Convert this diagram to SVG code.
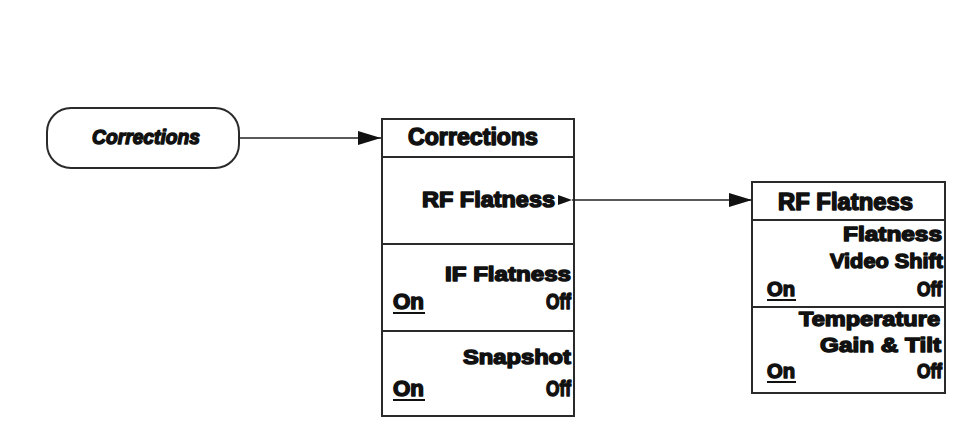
<svg xmlns="http://www.w3.org/2000/svg" width="963" height="423" viewBox="0 0 963 423">
<defs>
<style>
.box{fill:#fff;stroke:#2a2a2a;stroke-width:2}
.div{stroke:#2a2a2a;stroke-width:2}
.t{font-family:"Liberation Sans",Arial,sans-serif;font-weight:bold;fill:#111;stroke:#111;stroke-width:1.5;stroke-linejoin:round}
.conn{stroke:#222;stroke-width:1.6;fill:none}
.ul{stroke:#111;stroke-width:2}
</style>
<marker id="ah" markerUnits="userSpaceOnUse" markerWidth="24" markerHeight="14" refX="23" refY="7" orient="auto">
<path d="M0,0 L23,7 L0,14 Z" fill="#111"/>
</marker>
</defs>
<rect width="963" height="423" fill="#fff"/>

<g id="start">
<rect class="box" x="47" y="108" width="192" height="60" rx="24"/>
<text class="t" x="92" y="144" font-size="21" font-style="italic" textLength="108" lengthAdjust="spacingAndGlyphs">Corrections</text>
</g>

<g id="menu-corrections">
<rect class="box" x="382" y="119" width="192" height="297"/>
<line class="div" x1="382" y1="157" x2="574" y2="157"/>
<line class="div" x1="382" y1="244" x2="574" y2="244"/>
<line class="div" x1="382" y1="331" x2="574" y2="331"/>
<text class="t" x="408" y="145" font-size="23" textLength="130" lengthAdjust="spacingAndGlyphs">Corrections</text>
<text class="t" x="555" y="207" font-size="22" text-anchor="end" textLength="133" lengthAdjust="spacingAndGlyphs">RF Flatness</text>
<path d="M558,195 L572,200 L558,205 Z" fill="#111"/>
<text class="t" x="571" y="281" font-size="21" text-anchor="end" textLength="126" lengthAdjust="spacingAndGlyphs">IF Flatness</text>
<text class="t" x="393" y="309" font-size="22" textLength="31" lengthAdjust="spacingAndGlyphs">On</text>
<line class="ul" x1="393" y1="313" x2="425" y2="313"/>
<text class="t" x="571" y="309" font-size="22" text-anchor="end" textLength="25" lengthAdjust="spacingAndGlyphs">Off</text>
<text class="t" x="571" y="364" font-size="21" text-anchor="end" textLength="108" lengthAdjust="spacingAndGlyphs">Snapshot</text>
<text class="t" x="393" y="396" font-size="22" textLength="31" lengthAdjust="spacingAndGlyphs">On</text>
<line class="ul" x1="393" y1="400" x2="425" y2="400"/>
<text class="t" x="571" y="396" font-size="22" text-anchor="end" textLength="25" lengthAdjust="spacingAndGlyphs">Off</text>
</g>

<g id="menu-rf-flatness">
<rect class="box" x="752" y="182" width="193" height="211"/>
<line class="div" x1="752" y1="220" x2="945" y2="220"/>
<line class="div" x1="752" y1="307" x2="945" y2="307"/>
<text class="t" x="778" y="210" font-size="23" textLength="135" lengthAdjust="spacingAndGlyphs">RF Flatness</text>
<text class="t" x="942" y="241" font-size="21" text-anchor="end" textLength="99" lengthAdjust="spacingAndGlyphs">Flatness</text>
<text class="t" x="943" y="268" font-size="21" text-anchor="end" textLength="113" lengthAdjust="spacingAndGlyphs">Video Shift</text>
<text class="t" x="767" y="296" font-size="21" textLength="28" lengthAdjust="spacingAndGlyphs">On</text>
<line class="ul" x1="767" y1="300" x2="796" y2="300"/>
<text class="t" x="942" y="296" font-size="21" text-anchor="end" textLength="25" lengthAdjust="spacingAndGlyphs">Off</text>
<text class="t" x="940" y="326" font-size="21" text-anchor="end" textLength="141" lengthAdjust="spacingAndGlyphs">Temperature</text>
<text class="t" x="941" y="352" font-size="21" text-anchor="end" textLength="121" lengthAdjust="spacingAndGlyphs">Gain &amp; Tilt</text>
<text class="t" x="767" y="378" font-size="21" textLength="28" lengthAdjust="spacingAndGlyphs">On</text>
<line class="ul" x1="767" y1="382" x2="796" y2="382"/>
<text class="t" x="942" y="378" font-size="21" text-anchor="end" textLength="25" lengthAdjust="spacingAndGlyphs">Off</text>
</g>

<g id="connectors">
<line class="conn" x1="239" y1="138" x2="381" y2="138" marker-end="url(#ah)"/>
<line class="conn" x1="572" y1="200" x2="752" y2="200" marker-end="url(#ah)"/>
</g>
</svg>
